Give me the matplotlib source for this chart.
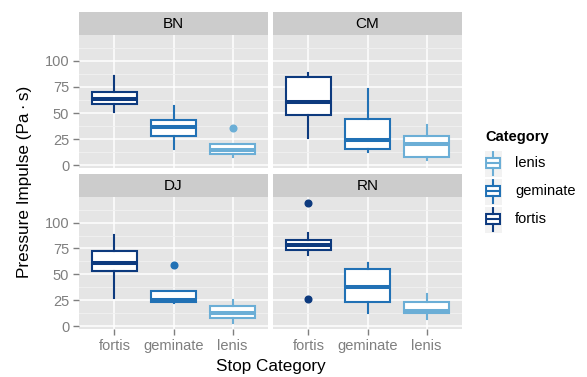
import matplotlib
matplotlib.use('Agg')
from matplotlib import pyplot as plt

plt.rcParams['font.family'] = ['Liberation Sans', 'DejaVu Sans']

speakers = ['BN', 'CM', 'DJ', 'RN']
categories = ['fortis', 'geminate', 'lenis']
colors = ['#0D3A7E', '#2171B5', '#6BAED6']

# box stats, one row per speaker, columns fortis/geminate/lenis
whislo = [[50.6, 15.6, 7.6], [26.0, 13.0, 4.8], [27.1, 22.0, 3.2], [68.5, 12.7, 7.0]]
q1 = [[58.3, 28.0, 10.5], [48.0, 15.6, 7.6], [52.9, 23.9, 7.6], [73.6, 23.9, 12.4]]
med = [[63.4, 36.6, 14.3], [60.8, 24.2, 20.4], [60.8, 25.4, 12.4], [78.7, 38.2, 14.6]]
q3 = [[70.0, 43.3, 20.0], [84.7, 44.3, 27.7], [72.3, 34.1, 20.0], [83.4, 55.1, 23.2]]
whishi = [[85.4, 56.7, 20.4], [88.2, 72.9, 38.5], [87.9, 34.1, 25.8], [90.1, 61.1, 31.2]]
outliers = [[[], [], [35.7]], [[], [], []], [[], [58.6], []], [[118.8, 26.4], [], []]]

W, H = 587, 377
fig = plt.figure(figsize=(W / 100, H / 100), dpi=100)

def frac(x0, y0, x1, y1):
    return [x0 / W, 1 - y1 / H, (x1 - x0) / W, (y1 - y0) / H]

panel_x = [(79, 268), (273, 462)]
panel_y = [(35, 168), (197, 329)]
grey = '#7F7F7F'

for k, sp in enumerate(speakers):
    r, c = divmod(k, 2)
    x0, x1 = panel_x[c]
    y0, y1 = panel_y[r]
    ax = fig.add_axes(frac(x0, y0, x1, y1))
    ax.set_facecolor('#E5E5E5')
    for s in ax.spines.values():
        s.set_visible(False)
    ax.set_xlim(0.4, 3.6)
    ax.set_ylim(-2.6, 124.6)
    ax.set_yticks([0, 25, 50, 75, 100])
    ax.set_yticks([12.5, 37.5, 62.5, 87.5, 112.5], minor=True)
    ax.set_xticks([1, 2, 3])
    ax.grid(True, which='major', color='white', lw=1.1)
    ax.grid(True, which='minor', axis='y', color='#F2F2F2', lw=0.6)
    ax.set_axisbelow(True)
    ax.tick_params(which='minor', length=0)
    ax.tick_params(which='major', colors=grey, length=4.5, width=1, labelsize=10.5, pad=2.5)
    if c == 0:
        ax.set_yticklabels(['0', '25', '50', '75', '100'])
    else:
        ax.tick_params(axis='y', which='major', length=0, labelleft=False)
    if r == 1:
        ax.set_xticklabels(categories)
    else:
        ax.tick_params(axis='x', which='major', length=0, labelbottom=False)

    for j in range(3):
        st = dict(whislo=whislo[k][j], q1=q1[k][j], med=med[k][j], q3=q3[k][j],
                  whishi=whishi[k][j], fliers=outliers[k][j])
        col = colors[j]
        ax.bxp([st], positions=[j + 1], widths=0.75, patch_artist=True, showcaps=False,
               boxprops=dict(facecolor='white', edgecolor=col, lw=1.5),
               medianprops=dict(color=col, lw=2.9, solid_capstyle='butt'),
               whiskerprops=dict(color=col, lw=1.5),
               flierprops=dict(marker='o', markerfacecolor=col, markeredgecolor=col, markersize=4.8),
               manage_ticks=False)

    sax = fig.add_axes(frac(x0, y0 - 23, x1, y0))
    sax.set_facecolor('#CCCCCC')
    sax.set_xticks([])
    sax.set_yticks([])
    for s in sax.spines.values():
        s.set_visible(False)
    sax.text(0.5, 0.5, sp, ha='center', va='center', fontsize=11, color='black',
             transform=sax.transAxes)

fig.text(25 / W, 1 - 182 / H, 'Pressure Impulse (Pa\u2009·\u2009s)', rotation=90,
         ha='center', va='center', fontsize=12.3)
fig.text(270.5 / W, 1 - 366 / H, 'Stop Category', ha='center', va='center', fontsize=12.3)

# legend drawn by hand with boxplot keys
fig.text(485 / W, 1 - 137 / H, 'Category', ha='left', va='center', fontsize=10.5,
         fontweight='bold')
key_y = [163, 191, 219]
for i, j in enumerate([2, 1, 0]):
    col = colors[j]
    kax = fig.add_axes(frac(484, key_y[i] - 13.5, 502, key_y[i] + 13.5))
    kax.set_facecolor('#F2F2F2')
    for s in kax.spines.values():
        s.set_color('white')
    kax.set_xticks([])
    kax.set_yticks([])
    kax.set_xlim(0, 1)
    kax.set_ylim(0, 1)
    kax.bxp([dict(whislo=0.04, q1=0.3, med=0.5, q3=0.7, whishi=0.96, fliers=[])],
            positions=[0.5], widths=0.8, patch_artist=True, showcaps=False,
            boxprops=dict(facecolor='white', edgecolor=col, lw=1.5),
            medianprops=dict(color=col, lw=1.5),
            whiskerprops=dict(color=col, lw=1.5), manage_ticks=False)
    fig.text(515 / W, 1 - key_y[i] / H, categories[j], ha='left', va='center', fontsize=10.5)

fig.savefig('out.png', dpi=100)
